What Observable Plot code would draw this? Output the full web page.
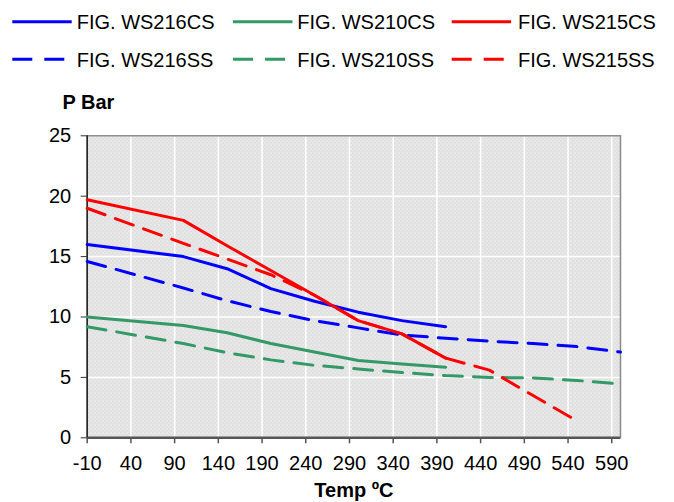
<!DOCTYPE html>
<html>
<head>
<meta charset="utf-8">
<script src="https://cdn.jsdelivr.net/npm/d3@7"></script>
<script src="https://cdn.jsdelivr.net/npm/@observablehq/plot@0.6"></script>
<style>
  html, body { margin: 0; padding: 0; background: #fff; }
  #wrap { width: 674px; }
  svg { display: block; }
</style>
</head>
<body>
<div id="wrap"></div>
<script>
// ---- data ----
const seriesNames = ["FIG. WS216CS", "FIG. WS210CS", "FIG. WS215CS", "FIG. WS216SS", "FIG. WS210SS", "FIG. WS215SS"];
const tempCS = [-10, 100, 150, 200, 250, 300, 350, 400];
const tempSS = [-10, 100, 150, 200, 250, 300, 350, 400, 450, 500, 550, 600];
const ws216cs = [16, 15, 14, 12.35, 11.3, 10.4, 9.7, 9.2];
const ws210cs = [10, 9.3, 8.7, 7.8, 7.1, 6.4, 6.1, 5.85];
const ws215cs = [19.7, 18, 15.9, 13.85, 11.8, 9.7, 8.6, 6.6];
const ws216ss = [14.6, 12.4, 11.35, 10.45, 9.7, 9.1, 8.5, 8.25, 8.0, 7.8, 7.55, 7.1];
const ws210ss = [9.2, 7.8, 7.05, 6.45, 6.0, 5.7, 5.4, 5.15, 5.0, 4.95, 4.75, 4.45];
const ws215ss = [19, 16.1, 14.8, 13.5, 11.8, 9.7, 8.6, 6.6, 5.6, 3.5, 1.4];
const xTicks = [-10, 40, 90, 140, 190, 240, 290, 340, 390, 440, 490, 540, 590];
const yTicks = [0, 5, 10, 15, 20, 25];
const xTitle = "Temp ºC";
const yTitle = "P Bar";

// ---- styling ----
const colors = ["#0000ff", "#339966", "#ff0000", "#0000ff", "#339966", "#ff0000"];
const dashes = [null, null, null, "19,11", "19,11", "19,11"];
const seriesVals = [ws216cs, ws210cs, ws215cs, ws216ss, ws210ss, ws215ss];
const seriesTemps = [tempCS, tempCS, tempCS, tempSS, tempSS, tempSS];
const FONT = "'Liberation Sans', Arial, sans-serif";

const wrap = d3.select("#wrap");

// ---- legend ----
const leg = wrap.append("svg").attr("width", 674).attr("height", 80)
  .style("font-family", FONT).style("font-size", "20px");
const colLine = [12.3, 233, 451.7];
const colText = [76.7, 297.3, 518];
const rowY = [21.7, 59.3];
seriesNames.forEach((name, i) => {
  const c = i % 3, r = Math.floor(i / 3);
  leg.append("line")
    .attr("x1", colLine[c]).attr("x2", colLine[c] + 59.4)
    .attr("y1", rowY[r]).attr("y2", rowY[r])
    .attr("stroke", colors[i]).attr("stroke-width", 3)
    .attr("stroke-dasharray", r === 1 ? "20,12" : null);
  leg.append("text").attr("x", colText[c]).attr("y", rowY[r] + 7.2)
    .attr("fill", "#000").text(name);
});

// ---- chart ----
const rows = [];
seriesNames.forEach((name, i) => {
  seriesVals[i].forEach((v, j) => rows.push({series: name, t: seriesTemps[i][j], p: v}));
});

const lineMarks = seriesNames.map((name, i) =>
  Plot.line(rows.filter(d => d.series === name), {
    x: "t", y: "p", stroke: colors[i], strokeWidth: 3,
    strokeDasharray: dashes[i] || undefined, strokeLinejoin: "round"
  })
);

const chart = Plot.plot({
  width: 674, height: 422,
  marginTop: 55.3, marginBottom: 64.7, marginLeft: 86.7, marginRight: 54,
  style: {fontFamily: FONT, fontSize: "20px", color: "#000", background: "#fff"},
  x: {domain: [-10, 600]},
  y: {domain: [0, 25]},
  marks: [
    Plot.frame({fill: "url(#chk)"}),
    Plot.gridX(xTicks, {stroke: "#fff", strokeOpacity: 1, strokeWidth: 1.5}),
    Plot.gridY(yTicks, {stroke: "#fff", strokeOpacity: 1, strokeWidth: 1.5}),
    Plot.frame({stroke: "#8a8a8a", strokeWidth: 1.5}),
    Plot.axisX(xTicks, {tickSize: 6, tickPadding: 12, stroke: "#555", strokeWidth: 1.5,
      tickFormat: d => String(d), label: null, fontSize: 20, fill: "#000"}),
    Plot.axisY(yTicks, {tickSize: 6, tickPadding: 10, stroke: "#333",
      tickFormat: d => String(d), label: null, fontSize: 20, fill: "#000"}),
    Plot.ruleY([0], {stroke: "#555", strokeWidth: 2.5}),
    Plot.ruleX([-10], {stroke: "#222", strokeWidth: 1.5}),
    ...lineMarks,
    Plot.text([yTitle], {frameAnchor: "top-left", dx: -24.7, dy: -41.5, text: d => d,
      fontWeight: "bold", fontSize: 20, fill: "#000"}),
    Plot.text([xTitle], {frameAnchor: "bottom", dy: 59, text: d => d,
      fontWeight: "bold", fontSize: 20, fill: "#000"})
  ]
});

// checker pattern for the plot area background (Excel-style fill)
const s = d3.select(chart);
const pat = s.insert("defs", ":first-child").append("pattern")
  .attr("id", "chk").attr("width", 4).attr("height", 4)
  .attr("patternUnits", "userSpaceOnUse");
pat.append("rect").attr("width", 4).attr("height", 4).attr("fill", "#e6e6e6");
pat.append("rect").attr("x", 0).attr("y", 0).attr("width", 1).attr("height", 1).attr("fill", "#cdcdcd");
pat.append("rect").attr("x", 2).attr("y", 2).attr("width", 1).attr("height", 1).attr("fill", "#cdcdcd");
pat.append("rect").attr("x", 2).attr("y", 0).attr("width", 1).attr("height", 1).attr("fill", "#f0f0f0");

wrap.node().appendChild(chart);
</script>
</body>
</html>
